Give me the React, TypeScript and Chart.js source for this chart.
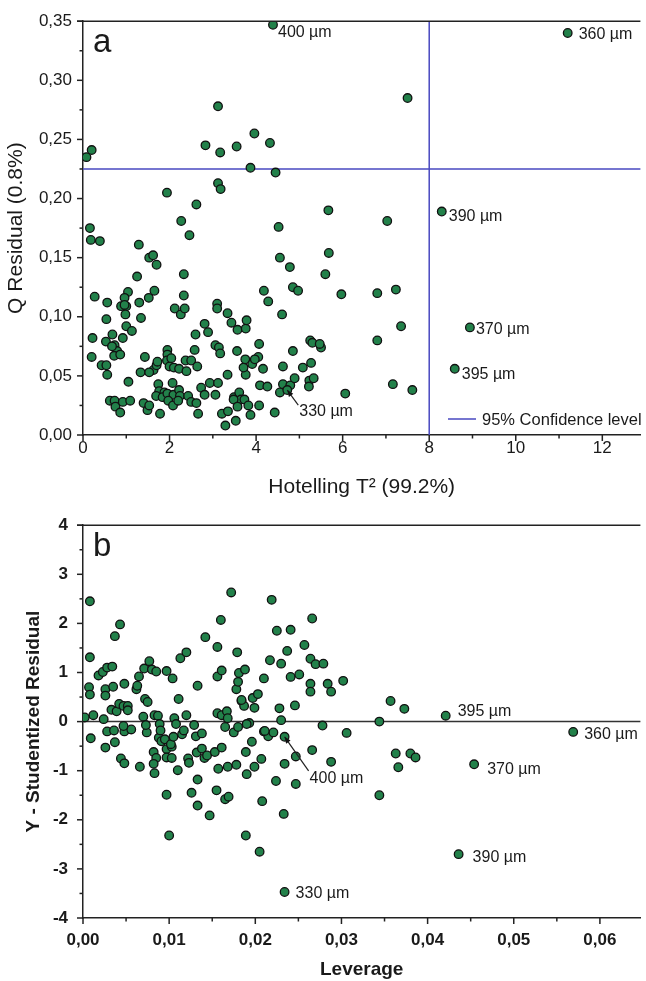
import React, { useEffect, useRef } from 'react';
import { Chart, registerables } from 'chart.js';

Chart.register(...registerables);

const FONT = '"Liberation Sans", Arial, Helvetica, sans-serif';
const TEXT = '#1a1a1a';
const GREEN = '#22814a';
const BLUE = '#4848c0';

// ---------------- Panel a : Hotelling T² vs Q residual ----------------
const hotellingTicks = [0, 2, 4, 6, 8, 10, 12];
const hotellingTickLabels = ['0', '2', '4', '6', '8', '10', '12'];
const hotellingMinorTicks = [1, 3, 5, 7, 9, 11];
const qResidualTicks = [0, 0.05, 0.1, 0.15, 0.2, 0.25, 0.3, 0.35];
const qResidualTickLabels = ['0,00', '0,05', '0,10', '0,15', '0,20', '0,25', '0,30', '0,35'];
const qResidualMinorTicks = [0.025, 0.075, 0.125, 0.175, 0.225, 0.275, 0.325];
const confidenceT2 = 8;
const confidenceQ = 0.225;

const panelAPoints: [number, number][] = [
  [4.39, 0.347], [11.2, 0.34], [7.5, 0.285], [3.12, 0.278],
  [0.2, 0.241], [0.08, 0.235], [2.83, 0.245], [3.17, 0.239], [3.55, 0.244], [3.96, 0.255], [4.32, 0.247],
  [3.87, 0.226], [4.45, 0.222], [3.12, 0.213], [3.18, 0.208], [1.94, 0.205], [2.62, 0.195], [2.27, 0.181],
  [4.52, 0.176], [0.16, 0.175], [5.67, 0.19], [8.29, 0.189], [7.03, 0.181],
  [0.18, 0.165], [0.39, 0.164], [2.46, 0.169], [4.55, 0.15], [4.78, 0.142], [5.68, 0.154], [5.6, 0.136],
  [1.29, 0.161], [1.25, 0.134], [1.53, 0.15], [1.62, 0.152], [1.7, 0.144], [2.33, 0.136], [2.33, 0.118],
  [2.12, 0.107], [2.26, 0.102], [2.35, 0.107], [1.65, 0.122], [1.52, 0.116], [1.3, 0.112], [1.34, 0.099],
  [0.27, 0.117], [0.56, 0.112], [0.54, 0.098], [1.04, 0.121], [0.96, 0.116], [0.88, 0.109], [1.0, 0.109],
  [0.98, 0.102], [1.0, 0.092], [1.13, 0.088], [0.92, 0.082], [0.22, 0.082], [0.2, 0.066], [0.53, 0.079],
  [0.68, 0.085], [0.73, 0.076], [0.79, 0.071], [0.72, 0.067], [0.86, 0.068], [0.43, 0.059], [0.54, 0.059],
  [0.56, 0.051], [1.05, 0.045], [0.62, 0.029], [0.73, 0.029], [0.75, 0.024], [0.86, 0.019], [0.92, 0.028],
  [1.09, 0.029], [0.67, 0.075], [0.96, 0.11],
  [1.43, 0.066], [1.33, 0.053], [1.4, 0.027], [1.49, 0.021], [1.53, 0.025], [1.63, 0.055], [1.7, 0.059],
  [1.74, 0.043], [1.76, 0.037], [1.78, 0.018], [1.69, 0.033], [1.72, 0.062], [1.53, 0.053],
  [1.95, 0.072], [1.95, 0.068], [1.94, 0.063], [2.0, 0.058], [2.1, 0.057], [2.22, 0.056], [2.04, 0.065],
  [1.88, 0.036], [1.84, 0.032], [1.95, 0.035], [2.07, 0.044], [2.09, 0.034], [1.97, 0.029], [2.08, 0.025],
  [2.22, 0.038], [2.24, 0.033], [2.2, 0.029], [2.39, 0.054],
  [2.37, 0.063], [2.5, 0.063], [2.64, 0.058], [2.6, 0.085], [2.58, 0.072], [2.43, 0.033], [2.5, 0.028],
  [2.62, 0.027], [2.66, 0.018], [2.81, 0.094], [2.89, 0.087], [2.73, 0.04], [2.81, 0.034], [2.93, 0.044],
  [3.06, 0.034], [3.12, 0.044],
  [3.1, 0.111], [3.1, 0.107], [3.06, 0.076], [3.14, 0.074], [3.17, 0.069], [3.34, 0.103], [3.43, 0.095],
  [3.57, 0.089], [3.76, 0.09], [3.78, 0.097], [3.56, 0.071], [3.34, 0.051], [3.21, 0.018], [3.29, 0.008],
  [3.35, 0.02], [3.53, 0.012], [3.49, 0.032], [3.61, 0.036], [3.65, 0.03], [3.48, 0.03], [3.57, 0.024],
  [3.73, 0.03], [3.82, 0.025], [3.87, 0.017], [3.76, 0.051], [3.71, 0.057],
  [3.75, 0.064], [3.91, 0.06], [4.05, 0.066], [3.97, 0.064], [4.07, 0.077], [4.16, 0.056], [4.07, 0.025],
  [4.09, 0.042], [4.26, 0.041], [4.43, 0.019], [4.18, 0.122], [4.28, 0.113], [4.6, 0.102], [4.62, 0.058],
  [4.55, 0.036], [4.62, 0.043], [4.79, 0.042], [4.85, 0.071], [4.89, 0.048], [4.85, 0.125], [4.97, 0.122],
  [5.08, 0.057], [5.23, 0.046], [5.27, 0.061], [5.22, 0.041], [5.25, 0.08], [5.3, 0.078], [5.5, 0.074],
  [5.47, 0.077], [5.33, 0.048], [4.72, 0.038],
  [5.97, 0.119], [6.8, 0.12], [7.23, 0.123], [7.35, 0.092], [6.8, 0.08], [8.94, 0.091], [8.59, 0.056],
  [7.16, 0.043], [7.61, 0.038], [6.06, 0.035],
];

const panelALabels = [
  { text: '400 µm', x: 4.39, y: 0.347 },
  { text: '360 µm', x: 11.2, y: 0.34 },
  { text: '390 µm', x: 8.29, y: 0.189 },
  { text: '370 µm', x: 8.94, y: 0.091 },
  { text: '395 µm', x: 8.59, y: 0.056 },
  { text: '330 µm', x: 4.72, y: 0.038 },
];
// pixel offsets of label text (and optional arrow tail) from the labelled point
const panelALabelOffsets = [
  { dx: 5, dy: 8 },
  { dx: 11, dy: 2 },
  { dx: 7, dy: 5 },
  { dx: 6, dy: 2 },
  { dx: 7, dy: 6 },
  { dx: 12, dy: 22, arrow: [11, 15] },
];

// ---------------- Panel b : Leverage vs Y studentized residual ----------------
const leverageTicks = [0, 0.01, 0.02, 0.03, 0.04, 0.05, 0.06];
const leverageTickLabels = ['0,00', '0,01', '0,02', '0,03', '0,04', '0,05', '0,06'];
const leverageMinorTicks = [0.005, 0.015, 0.025, 0.035, 0.045, 0.055];
const residualTicks = [-4, -3, -2, -1, 0, 1, 2, 3, 4];
const residualTickLabels = ['-4', '-3', '-2', '-1', '0', '1', '2', '3', '4'];
const residualMinorTicks = [-3.5, -2.5, -1.5, -0.5, 0.5, 1.5, 2.5, 3.5];

const panelBPoints: [number, number][] = [
  [0.0008, 2.45], [0.0008, 1.31], [0.0007, 0.7], [0.0008, 0.55], [0.0012, 0.13], [0.0002, 0.085],
  [0.0018, 0.94], [0.0023, 1.01], [0.0028, 1.1], [0.0034, 1.12], [0.0026, 0.66], [0.0026, 0.53],
  [0.0035, 0.71], [0.0024, 0.05], [0.0033, 0.24], [0.0039, 0.21], [0.0037, 1.74], [0.0043, 1.98],
  [0.0048, 0.77], [0.0042, 0.36], [0.0047, 0.32], [0.0052, 0.32], [0.0052, 0.23], [0.0062, 0.66],
  [0.0063, 0.73], [0.0065, 0.92], [0.0071, 1.08], [0.0077, 1.23], [0.008, 1.06], [0.0085, 1.02],
  [0.0097, 1.03], [0.0104, 0.88], [0.0072, 0.46], [0.0075, 0.4], [0.007, 0.1], [0.0083, 0.13],
  [0.0087, 0.12], [0.0106, 0.07], [0.0111, 0.46], [0.0113, 1.29], [0.012, 1.41], [0.012, 0.13],
  [0.0133, 0.73], [0.0142, 1.72], [0.0156, 1.52], [0.0156, 0.92], [0.0161, 1.04], [0.016, 2.07],
  [0.0156, 0.17], [0.0161, 0.13], [0.0167, 0.21], [0.0172, 2.63], [0.0179, 1.41], [0.0178, 0.66],
  [0.018, 0.81], [0.0181, 0.99], [0.0188, 1.06], [0.0184, 0.42], [0.0187, 0.32], [0.0193, -0.03],
  [0.0199, 0.28], [0.0197, 0.48], [0.0203, 0.56], [0.021, 0.88], [0.0217, 1.25], [0.0219, 2.48],
  [0.0225, 1.85], [0.023, 1.18], [0.0228, 0.27], [0.023, 0.03], [0.0237, 1.44], [0.0241, 1.87],
  [0.0241, 0.91], [0.0251, 0.96], [0.0246, 0.33], [0.0257, 1.56], [0.0266, 2.1], [0.0264, 1.28],
  [0.027, 1.17], [0.0264, 0.77], [0.0264, 0.61], [0.0279, 1.18], [0.0278, -0.08], [0.0284, 0.77],
  [0.0288, 0.61], [0.0302, 0.83], [0.0357, 0.42], [0.0373, 0.26], [0.0344, 0.0], [0.0421, 0.12],
  [0.0306, -0.23], [0.0569, -0.21], [0.0288, -0.82], [0.0363, -0.65], [0.038, -0.65], [0.0386, -0.73],
  [0.0366, -0.93], [0.0344, -1.5], [0.0454, -0.87], [0.0436, -2.7],
  [0.0009, -0.34], [0.0026, -0.53], [0.0037, -0.42], [0.0028, -0.2], [0.0036, -0.18], [0.0048, -0.2],
  [0.0056, -0.16], [0.0047, -0.09], [0.0044, -0.75], [0.0048, -0.85], [0.0066, -0.92], [0.0074, -0.22],
  [0.0073, -0.07], [0.0082, -0.62], [0.0085, -0.74], [0.0082, -0.86], [0.0083, -1.05], [0.0088, -0.33],
  [0.0091, -0.4], [0.0095, -0.36], [0.0089, -0.05], [0.009, -0.18], [0.0097, -0.56], [0.0097, -0.73],
  [0.0103, -0.51], [0.0103, -0.74], [0.0102, -0.46], [0.0105, -0.31], [0.0108, -0.05], [0.0115, -0.26],
  [0.0117, -0.18], [0.011, -0.99], [0.0122, -0.75], [0.0123, -0.84], [0.0129, -0.07], [0.0131, -0.3],
  [0.0138, -0.24], [0.0132, -0.63], [0.0133, -1.18], [0.0138, -0.55], [0.0141, -0.74], [0.0144, -0.69],
  [0.0153, -0.62], [0.0161, -0.53], [0.0157, -0.96], [0.0168, -0.92], [0.0178, -0.88], [0.0189, -0.62],
  [0.0196, -0.41], [0.019, -1.07], [0.0199, -0.92], [0.0207, -0.76], [0.021, -0.2], [0.0215, -0.3],
  [0.0221, -0.22], [0.0234, -0.31], [0.0234, -0.86], [0.0247, -0.71], [0.0266, -0.58],
  [0.0097, -1.49], [0.0126, -1.45], [0.0133, -1.71], [0.0147, -1.91], [0.0155, -1.4], [0.0165, -1.58],
  [0.0169, -1.53], [0.0208, -1.62], [0.0224, -1.21], [0.0247, -1.27], [0.0233, -1.88], [0.01, -2.32],
  [0.0189, -2.32], [0.0205, -2.65], [0.0234, -3.47],
  [0.0168, 0.07], [0.0165, -0.11], [0.0175, -0.22], [0.018, -0.11], [0.019, -0.05], [0.0184, 0.44],
  [0.0211, -0.19],
];

const panelBLabels = [
  { text: '395 µm', x: 0.0421, y: 0.12 },
  { text: '360 µm', x: 0.0569, y: -0.21 },
  { text: '370 µm', x: 0.0454, y: -0.87 },
  { text: '390 µm', x: 0.0436, y: -2.7 },
  { text: '330 µm', x: 0.0234, y: -3.47 },
  { text: '400 µm', x: 0.0234, y: -0.31 },
];
const panelBLabelOffsets = [
  { dx: 12, dy: -4 },
  { dx: 11, dy: 3 },
  { dx: 13, dy: 5 },
  { dx: 14, dy: 3 },
  { dx: 11, dy: 2 },
  { dx: 25, dy: 42, arrow: [24, 34] },
];

type RefLine = { axis: 'x' | 'y'; value: number; color: string; width: number };
type PanelCfg = {
  id: string;
  xMajor: number[]; xMinor: number[]; yMajor: number[]; yMinor: number[];
  letter: string;
  labels: { text: string; x: number; y: number }[];
  offsets: { dx: number; dy: number; arrow?: number[] }[];
  lines: RefLine[];
  legend: boolean;
};

function panelPlugin(cfg: PanelCfg) {
  return {
    id: cfg.id,
    beforeDatasetsDraw(chart: any) {
      const { ctx, chartArea: a, scales } = chart;
      ctx.save();
      cfg.lines.forEach((l) => {
        ctx.strokeStyle = l.color;
        ctx.lineWidth = l.width;
        ctx.beginPath();
        if (l.axis === 'x') {
          const px = scales.x.getPixelForValue(l.value);
          ctx.moveTo(px, a.top);
          ctx.lineTo(px, a.bottom);
        } else {
          const py = scales.y.getPixelForValue(l.value);
          ctx.moveTo(a.left, py);
          ctx.lineTo(a.right, py);
        }
        ctx.stroke();
      });
      ctx.restore();
    },
    afterDraw(chart: any) {
      const { ctx, chartArea: a, scales } = chart;
      const xs = scales.x;
      const ys = scales.y;
      ctx.save();
      ctx.strokeStyle = '#222';
      ctx.lineWidth = 1.5;
      // top frame
      ctx.beginPath();
      ctx.moveTo(a.left - 6, a.top);
      ctx.lineTo(a.right, a.top);
      ctx.stroke();
      // ticks
      const drawX = (vals: number[], len: number) => {
        vals.forEach((v) => {
          const px = xs.getPixelForValue(v);
          ctx.beginPath();
          ctx.moveTo(px, a.bottom);
          ctx.lineTo(px, a.bottom + len);
          ctx.stroke();
        });
      };
      const drawY = (vals: number[], len: number) => {
        vals.forEach((v) => {
          const py = ys.getPixelForValue(v);
          ctx.beginPath();
          ctx.moveTo(a.left - len, py);
          ctx.lineTo(a.left, py);
          ctx.stroke();
        });
      };
      drawX(cfg.xMajor, 6);
      drawX(cfg.xMinor, 3.5);
      drawY(cfg.yMajor, 6);
      drawY(cfg.yMinor, 3.5);

      // panel letter
      ctx.fillStyle = TEXT;
      ctx.font = `33px ${FONT}`;
      ctx.textBaseline = 'alphabetic';
      ctx.textAlign = 'left';
      ctx.fillText(cfg.letter, a.left + 10, a.top + 31);

      // point labels
      ctx.font = `16px ${FONT}`;
      ctx.textBaseline = 'middle';
      cfg.labels.forEach((lb, i) => {
        const off = cfg.offsets[i];
        const px = xs.getPixelForValue(lb.x);
        const py = ys.getPixelForValue(lb.y);
        ctx.fillStyle = TEXT;
        ctx.fillText(lb.text, px + off.dx, py + off.dy);
        if (off.arrow) {
          const tx = px + off.arrow[0];
          const ty = py + off.arrow[1];
          ctx.strokeStyle = '#222';
          ctx.lineWidth = 1.2;
          ctx.beginPath();
          ctx.moveTo(tx, ty);
          ctx.lineTo(px, py);
          ctx.stroke();
          const ang = Math.atan2(py - ty, px - tx);
          const h = 7;
          ctx.beginPath();
          ctx.moveTo(px, py);
          ctx.lineTo(px - h * Math.cos(ang - 0.4), py - h * Math.sin(ang - 0.4));
          ctx.lineTo(px - h * Math.cos(ang + 0.4), py - h * Math.sin(ang + 0.4));
          ctx.closePath();
          ctx.fillStyle = '#111';
          ctx.fill();
        }
      });

      if (cfg.legend) {
        const ly = a.bottom - 16;
        ctx.strokeStyle = BLUE;
        ctx.lineWidth = 1.5;
        ctx.beginPath();
        ctx.moveTo(448, ly);
        ctx.lineTo(476, ly);
        ctx.stroke();
        ctx.fillStyle = TEXT;
        ctx.font = `16.5px ${FONT}`;
        ctx.textBaseline = 'middle';
        ctx.fillText('95% Confidence level', 482, ly + 1);
      }
      ctx.restore();
    },
  };
}

function makeChart(
  canvas: HTMLCanvasElement,
  points: [number, number][],
  cfg: PanelCfg,
  opts: {
    xMin: number; xMax: number; yMin: number; yMax: number;
    xLabels: string[]; yLabels: string[];
    xTitle: string; yTitle: string;
    bold: boolean; tickSize: number; titleSize: number;
    padTop: number; xHeight: number;
    xTickPad: number; yTickPad: number; yTitlePad: number;
  }
) {
  const weight = opts.bold ? 'bold' : 'normal';
  return new Chart(canvas, {
    type: 'scatter',
    data: {
      datasets: [
        {
          data: points.map(([x, y]) => ({ x, y })),
          pointRadius: 4.3,
          pointBackgroundColor: GREEN,
          pointBorderColor: '#111',
          pointBorderWidth: 1.3,
          showLine: false,
        },
      ],
    },
    options: {
      responsive: false,
      animation: false,
      devicePixelRatio: 1,
      layout: { padding: { top: opts.padTop, left: 0, right: 0, bottom: 0 } },
      plugins: { legend: { display: false }, tooltip: { enabled: false } },
      events: [],
      scales: {
        x: {
          type: 'linear',
          min: opts.xMin,
          max: opts.xMax,
          afterBuildTicks: (s: any) => {
            s.ticks = cfg.xMajor.map((v) => ({ value: v }));
          },
          afterFit: (s: any) => {
            s.height = opts.xHeight;
          },
          grid: { display: false, drawTicks: false },
          border: { display: true, color: '#222', width: 1.5 },
          ticks: {
            autoSkip: false,
            maxRotation: 0,
            padding: opts.xTickPad,
            color: TEXT,
            font: { family: FONT, size: opts.tickSize, weight },
            callback: (_v: any, i: number) => opts.xLabels[i],
          },
          title: {
            display: true,
            text: opts.xTitle,
            color: TEXT,
            font: { family: FONT, size: opts.titleSize, weight },
            padding: { top: 0, bottom: 0 },
          },
        },
        y: {
          type: 'linear',
          min: opts.yMin,
          max: opts.yMax,
          afterBuildTicks: (s: any) => {
            s.ticks = cfg.yMajor.map((v) => ({ value: v }));
          },
          afterFit: (s: any) => {
            s.width = 83;
          },
          grid: { display: false, drawTicks: false },
          border: { display: true, color: '#222', width: 1.5 },
          ticks: {
            autoSkip: false,
            padding: opts.yTickPad,
            color: TEXT,
            font: { family: FONT, size: opts.tickSize, weight },
            callback: (_v: any, i: number) => opts.yLabels[i],
          },
          title: {
            display: true,
            text: opts.yTitle,
            color: TEXT,
            font: { family: FONT, size: opts.titleSize, weight },
            padding: { top: opts.yTitlePad, bottom: 0 },
          },
        },
      },
    },
    plugins: [panelPlugin(cfg) as any],
  });
}

export default function App() {
  const refA = useRef<HTMLCanvasElement>(null);
  const refB = useRef<HTMLCanvasElement>(null);

  useEffect(() => {
    if (!refA.current || !refB.current) return;
    const chartA = makeChart(
      refA.current,
      panelAPoints,
      {
        id: 'panelA',
        xMajor: hotellingTicks, xMinor: hotellingMinorTicks,
        yMajor: qResidualTicks, yMinor: qResidualMinorTicks,
        letter: 'a',
        labels: panelALabels, offsets: panelALabelOffsets,
        lines: [
          { axis: 'y', value: confidenceQ, color: BLUE, width: 1.5 },
          { axis: 'x', value: confidenceT2, color: BLUE, width: 1.5 },
        ],
        legend: true,
      },
      {
        xMin: 0, xMax: 12.88, yMin: 0, yMax: 0.35,
        xLabels: hotellingTickLabels, yLabels: qResidualTickLabels,
        xTitle: 'Hotelling T² (99.2%)', yTitle: 'Q Residual (0.8%)',
        bold: false, tickSize: 17, titleSize: 21,
        padTop: 21, xHeight: 65,
        xTickPad: 3, yTickPad: 11, yTitlePad: 4,
      }
    );
    const chartB = makeChart(
      refB.current,
      panelBPoints,
      {
        id: 'panelB',
        xMajor: leverageTicks, xMinor: leverageMinorTicks,
        yMajor: residualTicks, yMinor: residualMinorTicks,
        letter: 'b',
        labels: panelBLabels, offsets: panelBLabelOffsets,
        lines: [{ axis: 'y', value: 0, color: '#333', width: 1.5 }],
        legend: false,
      },
      {
        xMin: 0, xMax: 0.0647, yMin: -4, yMax: 4,
        xLabels: leverageTickLabels, yLabels: residualTickLabels,
        xTitle: 'Leverage', yTitle: 'Y - Studentized Residual',
        bold: true, tickSize: 17, titleSize: 19,
        padTop: 14, xHeight: 63,
        xTickPad: 12, yTickPad: 15, yTitlePad: 22,
      }
    );
    return () => {
      chartA.destroy();
      chartB.destroy();
    };
  }, []);

  return (
    <div style={{ position: 'absolute', left: 0, top: 0, width: 646, height: 981, background: '#fff' }}>
      <canvas ref={refA} width={646} height={500} style={{ position: 'absolute', left: 0, top: 0, width: 646, height: 500 }} />
      <canvas ref={refB} width={646} height={481} style={{ position: 'absolute', left: 0, top: 500, width: 646, height: 481 }} />
    </div>
  );
}
